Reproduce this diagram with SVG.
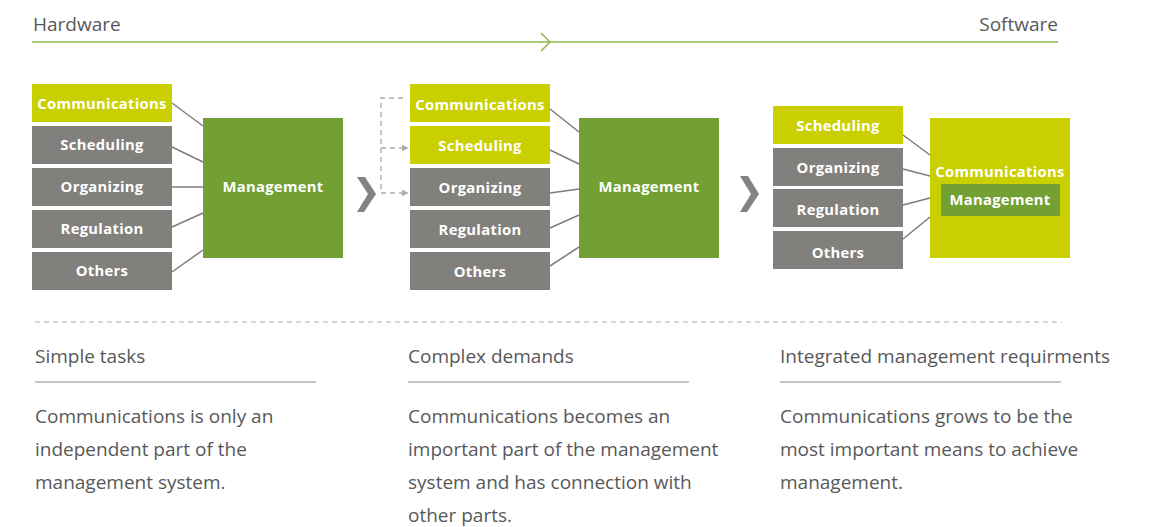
<svg xmlns="http://www.w3.org/2000/svg" width="1149" height="527" viewBox="0 0 1149 527">
<defs>
<style>
.lbl{font-family:"Open Sans","Liberation Sans",sans-serif;font-weight:bold;font-size:14.8px;fill:#fff;text-anchor:middle;letter-spacing:0.3px}
.gray{fill:#82807d}
.yel{fill:#cad000}
.grn{fill:#72a033}
.conn{stroke:#7d7d7d;stroke-width:1.5;fill:none}
.dash{stroke:#aaaaaa;stroke-width:1.3;fill:none;stroke-dasharray:5 4}
.txt{font-family:"Open Sans","Liberation Sans",sans-serif;font-size:19px;fill:#58585a}
.rule{stroke:#8a8a8a;stroke-width:1}
.chev{fill:#85837f}
</style>
<marker id="ah" viewBox="0 0 10 10" refX="9" refY="5" markerWidth="7" markerHeight="7" markerUnits="userSpaceOnUse" orient="auto">
<path d="M0,0 L10,5 L0,10 z" fill="#aaaaaa"/>
</marker>
</defs>
<rect width="1149" height="527" fill="#fff"/>

<g id="header">
<text class="txt" x="33" y="31">Hardware</text>
<text class="txt" x="1058" y="31" text-anchor="end">Software</text>
<line x1="32" y1="42" x2="1058" y2="42" stroke="#8cb84e" stroke-width="1.5"/>
<polyline points="541,33 550,42 541,51" fill="none" stroke="#8cb84e" stroke-width="1.5"/>
</g>

<g id="connectors">
<line class="conn" x1="172" y1="103" x2="203" y2="126"/>
<line class="conn" x1="172" y1="147" x2="203" y2="162"/>
<line class="conn" x1="172" y1="187" x2="203" y2="187"/>
<line class="conn" x1="172" y1="227" x2="203" y2="213"/>
<line class="conn" x1="172" y1="272" x2="203" y2="250"/>

<line class="conn" x1="550" y1="109" x2="579" y2="132"/>
<line class="conn" x1="550" y1="150" x2="579" y2="164"/>
<line class="conn" x1="550" y1="193" x2="579" y2="189"/>
<line class="conn" x1="550" y1="228" x2="579" y2="215"/>
<line class="conn" x1="550" y1="266" x2="579" y2="247"/>

<line class="conn" x1="903" y1="135" x2="930" y2="155"/>
<line class="conn" x1="903" y1="169" x2="930" y2="176"/>
<line class="conn" x1="903" y1="205" x2="930" y2="198"/>
<line class="conn" x1="903" y1="239" x2="930" y2="217"/>

<polyline class="dash" points="403,98 381,98 381,193"/>
<line class="dash" x1="381" y1="148" x2="408" y2="148" marker-end="url(#ah)"/>
<line class="dash" x1="381" y1="193" x2="408" y2="193" marker-end="url(#ah)"/>

<polygon class="chev" points="357,177 365,177 376,194 364,212 357,212 368,194"/>
<polygon class="chev" points="740,176 748,176 759,194 747,212 740,212 751,194"/>
</g>

<g id="stage1">
<g id="s1-comm"><rect class="yel" x="32" y="84" width="140" height="38"/><text class="lbl" x="102" y="108.5">Communications</text></g>
<g id="s1-sched"><rect class="gray" x="32" y="126" width="140" height="38"/><text class="lbl" x="102" y="150">Scheduling</text></g>
<g id="s1-org"><rect class="gray" x="32" y="168" width="140" height="38"/><text class="lbl" x="102" y="192">Organizing</text></g>
<g id="s1-reg"><rect class="gray" x="32" y="210" width="140" height="38"/><text class="lbl" x="102" y="234">Regulation</text></g>
<g id="s1-oth"><rect class="gray" x="32" y="252" width="140" height="38"/><text class="lbl" x="102" y="276">Others</text></g>
<g id="s1-mgmt"><rect class="grn" x="203" y="118" width="140" height="140"/><text class="lbl" x="273" y="192">Management</text></g>
</g>

<g id="stage2">
<g id="s2-comm"><rect class="yel" x="410" y="84" width="140" height="38"/><text class="lbl" x="480" y="110">Communications</text></g>
<g id="s2-sched"><rect class="yel" x="410" y="126" width="140" height="38"/><text class="lbl" x="480" y="151">Scheduling</text></g>
<g id="s2-org"><rect class="gray" x="410" y="168" width="140" height="38"/><text class="lbl" x="480" y="193">Organizing</text></g>
<g id="s2-reg"><rect class="gray" x="410" y="210" width="140" height="38"/><text class="lbl" x="480" y="235">Regulation</text></g>
<g id="s2-oth"><rect class="gray" x="410" y="252" width="140" height="38"/><text class="lbl" x="480" y="277">Others</text></g>
<g id="s2-mgmt"><rect class="grn" x="579" y="118" width="140" height="140"/><text class="lbl" x="649" y="192">Management</text></g>
</g>

<g id="stage3">
<g id="s3-sched"><rect class="yel" x="773" y="106" width="130" height="38"/><text class="lbl" x="838" y="131">Scheduling</text></g>
<g id="s3-org"><rect class="gray" x="773" y="148" width="130" height="38"/><text class="lbl" x="838" y="173">Organizing</text></g>
<g id="s3-reg"><rect class="gray" x="773" y="189" width="130" height="38"/><text class="lbl" x="838" y="215">Regulation</text></g>
<g id="s3-oth"><rect class="gray" x="773" y="231" width="130" height="38"/><text class="lbl" x="838" y="258">Others</text></g>
<g id="s3-comm"><rect class="yel" x="930" y="118" width="140" height="140"/><text class="lbl" x="1000" y="177">Communications</text>
<g id="s3-mgmt"><rect class="grn" x="941" y="184" width="119" height="32"/><text class="lbl" x="1000" y="205">Management</text></g></g>
</g>

<line x1="35" y1="322" x2="1062" y2="322" stroke="#aaaaaa" stroke-width="1" stroke-dasharray="5 4"/>

<g id="col1">
<text class="txt" x="35" y="363">Simple tasks</text>
<line class="rule" x1="35" y1="382" x2="316" y2="382"/>
<text class="txt" x="35" y="423">Communications is only an</text>
<text class="txt" x="35" y="456">independent part of the</text>
<text class="txt" x="35" y="489">management system.</text>
</g>
<g id="col2">
<text class="txt" x="408" y="363">Complex demands</text>
<line class="rule" x1="408" y1="382" x2="689" y2="382"/>
<text class="txt" x="408" y="423">Communications becomes an</text>
<text class="txt" x="408" y="456">important part of the management</text>
<text class="txt" x="408" y="489">system and has connection with</text>
<text class="txt" x="408" y="522">other parts.</text>
</g>
<g id="col3">
<text class="txt" x="780" y="363">Integrated management requirments</text>
<line class="rule" x1="780" y1="382" x2="1061" y2="382"/>
<text class="txt" x="780" y="423">Communications grows to be the</text>
<text class="txt" x="780" y="456">most important means to achieve</text>
<text class="txt" x="780" y="489">management.</text>
</g>
</svg>
